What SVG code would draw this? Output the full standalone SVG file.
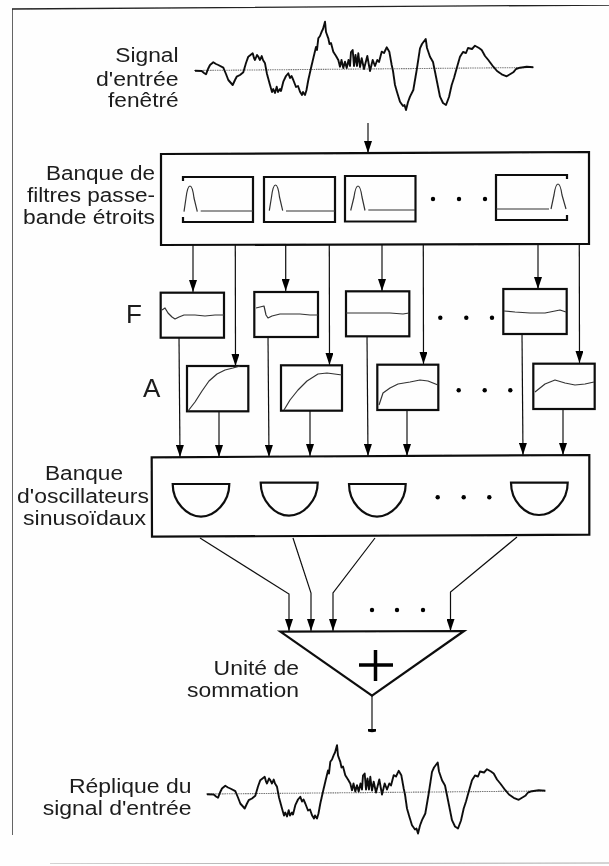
<svg xmlns="http://www.w3.org/2000/svg" xmlns:xlink="http://www.w3.org/1999/xlink" width="609" height="866" viewBox="0 0 609 866">
<style>
text{font-family:"Liberation Sans",Arial,sans-serif;font-size:20px;fill:#1c1c1c}
.b{fill:none;stroke:#111;stroke-width:2.2}
.t{fill:none;stroke:#333;stroke-width:1.2;stroke-linejoin:round}
.c{fill:none;stroke:#111;stroke-width:1.2}
.d{fill:#000}
.s{fill:none;stroke:#111;stroke-width:1.9;stroke-linejoin:round}
.z{fill:none;stroke:#777;stroke-width:1.1;stroke-dasharray:1.5 .8}
.big{font-size:26px}
</style>
<defs>
<marker id="ah" viewBox="0 0 12 8" refX="12" refY="4" markerWidth="12" markerHeight="8" markerUnits="userSpaceOnUse" orient="auto"><path d="M0 0L12 4L0 8Z" fill="#000"/></marker>
<filter id="soft" x="0" y="0" width="1" height="1"><feGaussianBlur stdDeviation="0.45"/></filter>
<g id="wave">
<path class="z" d="M194 70.500L534 67.500"/>
<path class="s" d="M195 70.700L201.700 71L204 73L206 74.300L208 69L210 65L213.300 62.300L216 64L218.300 65L223.300 67.700L226 74L228.300 80L232.700 85L235 80L236.700 76.700L240 75L243.300 72.300L246 63L248.300 56.700L252.700 53.300L254 58L255 60L257 55L258.300 56.700L260 60L261.700 56L263 60L265 63.300L267 74L270 85L272 92L273.300 89L275 93L276.700 86.700L278 92L280 89L281 91L283.300 81.700L286 76L288.300 73.300L290 78L291.500 76L293.300 80L296 87L298 86L300 91.700L302 95L303 92L305 95L306.500 90L308.300 80L311 68L313.300 58.300L316 47L317 50L318.300 38.300L320 36L321.700 31.700L323 29L325 21.700L326 32L328.300 38.300L329.500 44L331 43L333.300 51.700L336 56L338.300 60L340 66.700L341.500 60L343.300 68L345 61.700L346.700 68L348.500 60L350 66L351 52L352.700 50L354 66L355.500 55L357 66L358.300 53.300L360 67L361.700 58.300L364 69L367.300 56L370 71L372.700 60L375 66L377.300 60L379 62L381.700 51.700L384 53L386.700 47.300L389.300 51.700L391.700 65L393 71L395 85L397 92L400 101.700L403 106L404.500 105L406 110L408 102L410 96.700L413.300 90L416.700 70L420 48.300L422 44L425.700 39L427 48L430 56.700L433 62L435 71.700L440 96.700L443 103L446 105L449 97L451.700 85L454 78L456.700 68.300L460 56.700L463 52L466 53L468 48L472 49L475 45.700L479 48L481.700 50L485 56L488.300 60L493.300 66.700L497 71L501.700 74.300L506.700 76.300L513.300 72.300L516 69L520 67.700L526.700 66.700L533.300 67.300"/>
</g>
</defs>
<rect width="609" height="866" fill="#fefefe"/>
<g filter="url(#soft)">
<g id="frame"><path d="M12 835L12 9L609 5" fill="none" stroke="#222" stroke-width="1.4"/><path d="M50 864L609 863" fill="none" stroke="#aaa" stroke-width="1"/></g>
<g id="signal-input"><use xlink:href="#wave" href="#wave"/><text x="115.300" y="62" textLength="63.300" lengthAdjust="spacingAndGlyphs">Signal</text><text x="96" y="86" textLength="82.600" lengthAdjust="spacingAndGlyphs">d'entrée</text><text x="108" y="107" textLength="70.600" lengthAdjust="spacingAndGlyphs">fenêtré</text></g>
<g id="filter-bank"><path class="b" d="M161 154L589 152L589 244L161 245Z"/>
<text x="46" y="180" textLength="109" lengthAdjust="spacingAndGlyphs">Banque de</text><text x="27" y="202" textLength="128" lengthAdjust="spacingAndGlyphs">filtres passe-</text><text x="23" y="224" textLength="132" lengthAdjust="spacingAndGlyphs">bande étroits</text>
<g id="filter-1"><path class="b" d="M183 181L183 177L253 177L253 222L183 222L183 217"/><path class="t" d="M184 211.700L186 198C187 190 188.500 186 190 186C191.500 186 193 190 194 198L197.300 211.700M200.700 211L253 211"/></g>
<g id="filter-2"><path class="b" d="M264 177H335V222H264Z"/><path class="t" d="M269.300 210.700L271.500 197C272.500 189 274 185 275.500 185C277 185 278.500 189 279.500 197L282.700 210.700M286 211L335 211"/></g>
<g id="filter-3"><path class="b" d="M345 176H415.500V221.500H345Z"/><path class="t" d="M350.700 210.500L354 197C355 190 356.500 186 358 186C359.500 186 361 190 362 197L365 210.500M368.300 210L415 210"/></g>
<g id="filter-4"><path class="b" d="M567 179L567 175L496 175L496 220L567 220L567 215"/><path class="t" d="M496 209L549 209M551 209L554 195C555 188 556.500 184 558 184C559.500 184 561 188 562 195L566 209"/></g>
<circle class="d" cx="433" cy="199" r="2.200"/><circle class="d" cx="459" cy="199" r="2.200"/><circle class="d" cx="485" cy="199" r="2.200"/></g>
<g id="connectors">
<path class="c" marker-end="url(#ah)" d="M368 123L368 153"/>
<path class="c" marker-end="url(#ah)" d="M193 245L193 292"/>
<path class="c" marker-end="url(#ah)" d="M285.700 245L285.700 291"/>
<path class="c" marker-end="url(#ah)" d="M382 244L382 291"/>
<path class="c" marker-end="url(#ah)" d="M538 244L538 289"/>
<path class="c" marker-end="url(#ah)" d="M235.300 245L235.500 366"/>
<path class="c" marker-end="url(#ah)" d="M329.300 245L329.500 365"/>
<path class="c" marker-end="url(#ah)" d="M423.300 244L423.500 364"/>
<path class="c" marker-end="url(#ah)" d="M579.300 244L579.500 363"/>
<path class="c" marker-end="url(#ah)" d="M179 338L180 457"/>
<path class="c" marker-end="url(#ah)" d="M268 337L269 457"/>
<path class="c" marker-end="url(#ah)" d="M367 336L368 456"/>
<path class="c" marker-end="url(#ah)" d="M522 334L523 455"/>
<path class="c" marker-end="url(#ah)" d="M219 411L219 457"/>
<path class="c" marker-end="url(#ah)" d="M310 411L310 456"/>
<path class="c" marker-end="url(#ah)" d="M407 410L407 456"/>
<path class="c" marker-end="url(#ah)" d="M563 409L563 455"/>
<path class="c" marker-end="url(#ah)" d="M200 538L289 594L289 631"/>
<path class="c" marker-end="url(#ah)" d="M293 538L311 593L311 631"/>
<path class="c" marker-end="url(#ah)" d="M375 538L333 593L333 631"/>
<path class="c" marker-end="url(#ah)" d="M517 537L450.500 592L450.500 631"/>
<path class="c" d="M372 696L372 730"/>
<path d="M368 729H376V731.500Q372 733 368 731.500Z" fill="#000"/>
</g>
<text id="label-f" class="big" x="126" y="323">F</text>
<text id="label-a" class="big" x="143" y="397">A</text>
<g id="freq-1"><rect class="b" x="160.700" y="292.700" width="63.300" height="45"/><path class="t" d="M162 310L165 308L168 313L172 317L175 319L179 317L184 315L195 315L205 316L215 315L224 315"/></g>
<g id="freq-2"><rect class="b" x="254.300" y="292" width="63.700" height="45"/><path class="t" d="M256 308L260 307L264 306L266 315L268 318L272 316L280 314L290 314L300 314L310 315L318 315"/></g>
<g id="freq-3"><rect class="b" x="346" y="291.300" width="63.300" height="45"/><path class="t" d="M346 313L370 313L390 313L403 314L409 313"/></g>
<g id="freq-4"><rect class="b" x="503.300" y="289" width="63.400" height="45"/><path class="t" d="M504 311L515 312L530 313L545 313L555 311L560 310L566 312"/></g>
<circle class="d" cx="440.300" cy="317.700" r="2.200"/><circle class="d" cx="466.300" cy="317.700" r="2.200"/><circle class="d" cx="492" cy="317.700" r="2.200"/>
<g id="amp-1"><rect class="b" x="187" y="366" width="61.300" height="45.300"/><path class="t" d="M188 411L195 402L202 391L209 381L217 374L225 370L233 368L240 366"/></g>
<g id="amp-2"><rect class="b" x="281" y="365.300" width="61" height="45.400"/><path class="t" d="M284 410L290 400L298 390L307 381L318 374L327 373L342 375"/></g>
<g id="amp-3"><rect class="b" x="377.300" y="364.700" width="61" height="45.300"/><path class="t" d="M379 405L383 393L390 388L398 384L410 382L420 380L428 381L438 385"/></g>
<g id="amp-4"><rect class="b" x="533.300" y="363.700" width="61.400" height="45.300"/><path class="t" d="M535 392L545 384L555 380L565 383L575 385L585 384L594 382"/></g>
<circle class="d" cx="458.700" cy="390.300" r="2.200"/><circle class="d" cx="484.700" cy="390.300" r="2.200"/><circle class="d" cx="510.300" cy="390.300" r="2.200"/>
<g id="oscillator-bank"><path class="b" d="M151.700 457.300L589.300 455L589.300 534.700L152 536.700Z"/>
<text x="45" y="480" textLength="78" lengthAdjust="spacingAndGlyphs">Banque</text><text x="17" y="503" textLength="132" lengthAdjust="spacingAndGlyphs">d'oscillateurs</text><text x="23" y="525" textLength="123" lengthAdjust="spacingAndGlyphs">sinusoïdaux</text>
<path class="b" d="M172.700 484H229.300C229.300 502 215 516.700 201 516.700C187 516.700 172.700 502 172.700 484Z"/>
<path class="b" d="M260.700 482.700H317.700C317.700 501 303 515.700 289 515.700C275 515.700 260.700 501 260.700 482.700Z"/>
<path class="b" d="M349 484H405.700C405.700 502 391 516.700 377 516.700C363 516.700 349 502 349 484Z"/>
<path class="b" d="M511 482.700H567.700C567.700 501 553 515 539 515C525 515 511 501 511 482.700Z"/>
<circle class="d" cx="437.700" cy="497.300" r="2.200"/><circle class="d" cx="463.700" cy="497.300" r="2.200"/><circle class="d" cx="489.300" cy="497.300" r="2.200"/></g>
<g id="summation"><path class="b" d="M280.400 631.700L464 631L372 695.700Z"/><path d="M359 665H393M375.500 650V681" fill="none" stroke="#000" stroke-width="3.500"/>
<text x="213.600" y="675" textLength="85.400" lengthAdjust="spacingAndGlyphs">Unité de</text><text x="187" y="697" textLength="112" lengthAdjust="spacingAndGlyphs">sommation</text>
<circle class="d" cx="372" cy="610" r="2.200"/><circle class="d" cx="397" cy="610" r="2.200"/><circle class="d" cx="423" cy="610" r="2.200"/></g>
<g id="signal-output"><use xlink:href="#wave" href="#wave" transform="translate(12 723.500)"/><text x="69" y="793" textLength="122.500" lengthAdjust="spacingAndGlyphs">Réplique du</text><text x="42.700" y="815" textLength="148.800" lengthAdjust="spacingAndGlyphs">signal d'entrée</text></g>
</g>
</svg>
